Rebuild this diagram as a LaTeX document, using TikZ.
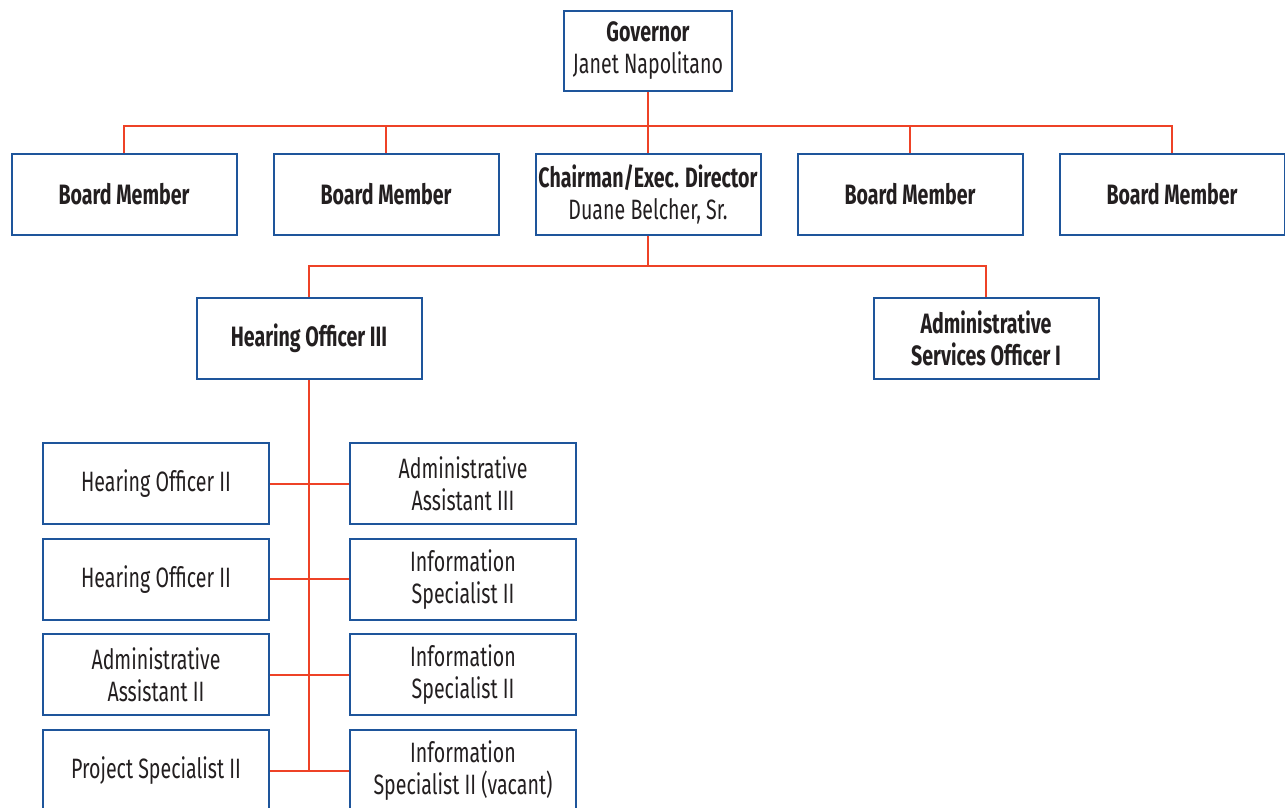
\documentclass[tikz,border=0pt]{standalone}
\usepackage{fontspec}
\setmainfont{Fira Sans}[FakeStretch=0.7]
\usetikzlibrary{positioning}
\definecolor{boxblue}{RGB}{30,85,155}
\definecolor{linkred}{RGB}{238,66,38}
\definecolor{textgray}{RGB}{35,31,32}

\begin{document}
\begin{tikzpicture}[
    x=1pt, y=1pt,
    post/.style={rectangle, draw=boxblue, line width=2pt, fill=white, text=textgray, align=center, font=\fontsize{28}{32}\selectfont, minimum width=225pt, minimum height=81pt, inner sep=2pt},
    head/.style={post, font=\fontsize{28}{32}\selectfont\bfseries},
    staff/.style={post, minimum width=226pt},
    link/.style={draw=linkred, line width=2pt}
]
\useasboundingbox (0,0) rectangle (1285,-807);

% Governor
\node[post, minimum width=168pt, minimum height=80pt] (governor) at (648,-51) {\textbf{Governor}\\Janet Napolitano};

% Board
\node[post, below=61pt of governor] (chair) {\textbf{Chairman/Exec. Director}\\Duane Belcher, Sr.};
\node[head, left=35pt of chair] (board2) {Board Member};
\node[head, left=35pt of board2] (board1) {Board Member};
\node[head, right=35pt of chair] (board3) {Board Member};
\node[head, right=35pt of board3] (board4) {Board Member};

% Direct reports
\node[head, below=61pt of chair, xshift=-339pt] (hearing3) {Hearing Officer III};
\node[head, below=61pt of chair, xshift=338pt] (aso) {Administrative\\Services Officer I};

% Staff
\node[staff, below=62pt of hearing3, xshift=-153pt] (ho1) {Hearing Officer II};
\node[staff, right=79pt of ho1] (aa3) {Administrative\\Assistant III};
\node[staff, below=12.7pt of ho1] (ho2) {Hearing Officer II};
\node[staff, right=79pt of ho2] (is1) {Information\\Specialist II};
\node[staff, below=12.7pt of ho2] (aa2) {Administrative\\Assistant II};
\node[staff, right=79pt of aa2] (is2) {Information\\Specialist II};
\node[staff, below=12.7pt of aa2] (ps) {Project Specialist II};
\node[staff, right=79pt of ps] (is3) {Information\\Specialist II (vacant)};

% Connectors
\coordinate[below=34pt of governor] (topbus);
\coordinate[below=30pt of chair] (midbus);
\draw[link] (governor) -- (chair);
\draw[link] (board1.north) |- (topbus) -| (board4.north);
\draw[link] (board2.north) -- (board2.north |- topbus);
\draw[link] (board3.north) -- (board3.north |- topbus);
\draw[link] (chair) -- (midbus);
\draw[link] (hearing3.north) |- (midbus) -| (aso.north);
\draw[link] (hearing3.south) -- (hearing3.south |- ps.east);
\draw[link] (ho1) -- (aa3);
\draw[link] (ho2) -- (is1);
\draw[link] (aa2) -- (is2);
\draw[link] (ps) -- (is3);

\end{tikzpicture}
\end{document}
